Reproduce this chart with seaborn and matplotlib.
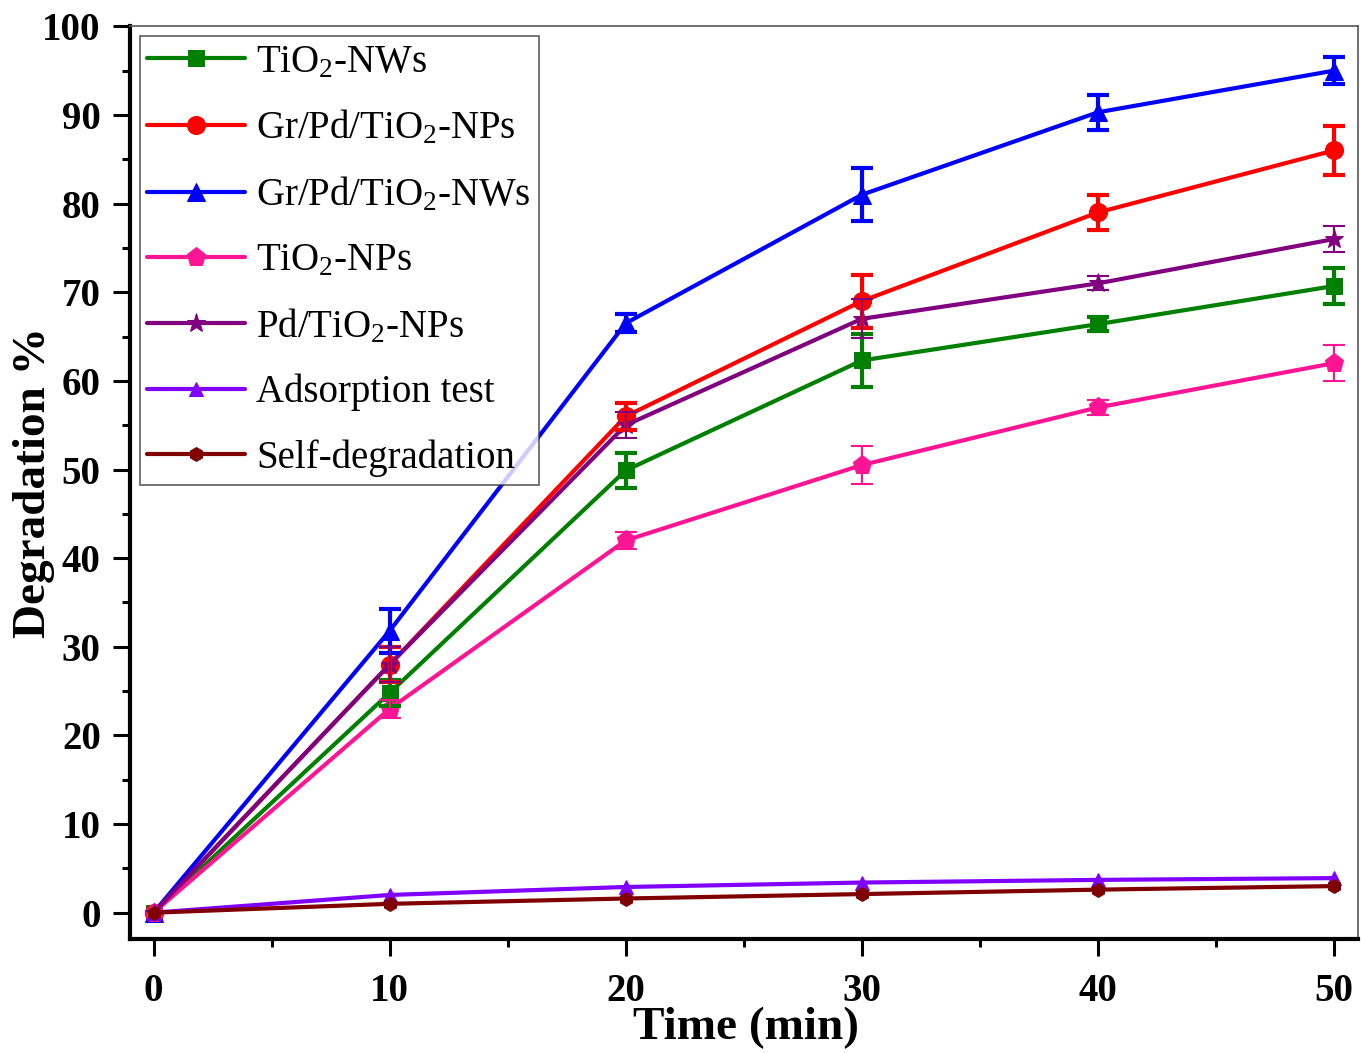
import matplotlib
matplotlib.use('Agg')
import matplotlib.pyplot as plt
from matplotlib.ticker import MultipleLocator
import seaborn as sns
import pandas as pd

# data
time_min = [0, 10, 20, 30, 40, 50]

tio2_nws = [0, 24.8, 49.9, 62.3, 66.4, 70.7]
tio2_nws_err = [0, 1.5, 2.0, 3.0, 0.8, 2.0]

gr_pd_tio2_nps = [0, 28.0, 56.0, 69.0, 79.0, 86.0]
gr_pd_tio2_nps_err = [0, 2.0, 1.5, 3.0, 2.0, 2.8]

gr_pd_tio2_nws = [0, 31.8, 66.5, 81.0, 90.3, 95.0]
gr_pd_tio2_nws_err = [0, 2.5, 1.0, 3.0, 2.0, 1.5]

tio2_nps = [0, 23.0, 42.0, 50.5, 57.0, 62.0]
tio2_nps_err = [0, 1.0, 1.0, 2.1, 0.8, 2.0]

pd_tio2_nps = [0, 28.0, 55.0, 67.0, 71.0, 76.0]
pd_tio2_nps_err = [0, 2.0, 1.5, 2.2, 0.8, 1.5]

adsorption = [0, 2.0, 2.9, 3.4, 3.7, 3.9]
self_deg = [0, 1.0, 1.6, 2.1, 2.6, 3.0]

labels = ['TiO$_2$-NWs', 'Gr/Pd/TiO$_2$-NPs', 'Gr/Pd/TiO$_2$-NWs', 'TiO$_2$-NPs',
          'Pd/TiO$_2$-NPs', 'Adsorption test', 'Self-degradation']
colors = ['#008000', '#ff0000', '#0000ff', '#ff1493', '#800080', '#8000ff', '#800000']
markers = ['s', 'o', '^', 'p', '*', '^', 'h']
msizes = [12, 13, 13, 14, 14, 10, 10]
values = [tio2_nws, gr_pd_tio2_nps, gr_pd_tio2_nws, tio2_nps, pd_tio2_nps, adsorption, self_deg]
errors = [tio2_nws_err, gr_pd_tio2_nps_err, gr_pd_tio2_nws_err, tio2_nps_err, pd_tio2_nps_err, None, None]
err_lw = [3, 3, 3, 1.5, 1.5, 0, 0]

sns.set_theme(style='ticks')
plt.rcParams['font.family'] = ['Liberation Serif', 'DejaVu Serif']
plt.rcParams['mathtext.fontset'] = 'custom'
plt.rcParams['mathtext.rm'] = 'Liberation Serif'
plt.rcParams['mathtext.it'] = 'Liberation Serif:italic'
plt.rcParams['mathtext.bf'] = 'Liberation Serif:bold'
for key in ['text.color', 'axes.labelcolor', 'xtick.color', 'ytick.color']:
    plt.rcParams[key] = 'black'

fig = plt.figure(figsize=(13.61, 10.53), dpi=100)
ax = fig.add_axes([0.0955, 0.108, 0.902, 0.867])

for lab, col, mk, ms, vals, err, elw in zip(labels, colors, markers, msizes, values, errors, err_lw):
    df = pd.DataFrame({'time': time_min, 'deg': vals})
    sns.lineplot(data=df, x='time', y='deg', ax=ax, color=col, marker=mk, markersize=ms,
                 markeredgecolor=col, linewidth=3, label=lab)
    if err is not None:
        ax.errorbar(time_min[1:], vals[1:], yerr=err[1:], fmt='none', ecolor=col,
                    elinewidth=elw, capsize=8, capthick=elw, zorder=3)

ax.set_xlim(-1, 51)
ax.set_ylim(-3, 100)
ax.xaxis.set_major_locator(MultipleLocator(10))
ax.xaxis.set_minor_locator(MultipleLocator(5))
ax.yaxis.set_major_locator(MultipleLocator(10))
ax.yaxis.set_minor_locator(MultipleLocator(5))
ax.tick_params(which='major', direction='out', length=12, width=2.2, labelsize=28,
               color='black', labelcolor='black')
ax.tick_params(axis='x', which='major', pad=12)
ax.tick_params(axis='y', which='major', pad=9)
ax.tick_params(which='minor', direction='out', length=6, width=2.2, color='black')
for t in ax.get_xticklabels() + ax.get_yticklabels():
    t.set_fontweight('bold')

for side in ['left', 'bottom']:
    ax.spines[side].set_linewidth(3)
    ax.spines[side].set_color('black')
for side in ['top', 'right']:
    ax.spines[side].set_visible(True)
    ax.spines[side].set_linewidth(1.2)
    ax.spines[side].set_color('#555555')

ax.set_xlabel('Time (min)', fontsize=34, fontweight='bold', va='center', color='black')
ax.set_ylabel('Degradation %', fontsize=34, fontweight='bold', va='center', color='black')
ax.xaxis.set_label_coords(0.502, -0.0975)
ax.yaxis.set_label_coords(-0.078, 0.50)

leg = ax.legend(loc='upper left', fontsize=28, frameon=True, fancybox=False,
                edgecolor='#333333', handlelength=2.5, borderaxespad=0.25,
                labelspacing=0.72, handletextpad=0.3, borderpad=0.2)
leg.get_frame().set_linewidth(1.2)
for t in leg.get_texts():
    t.set_color('black')

fig.savefig('out.png', dpi=100)
